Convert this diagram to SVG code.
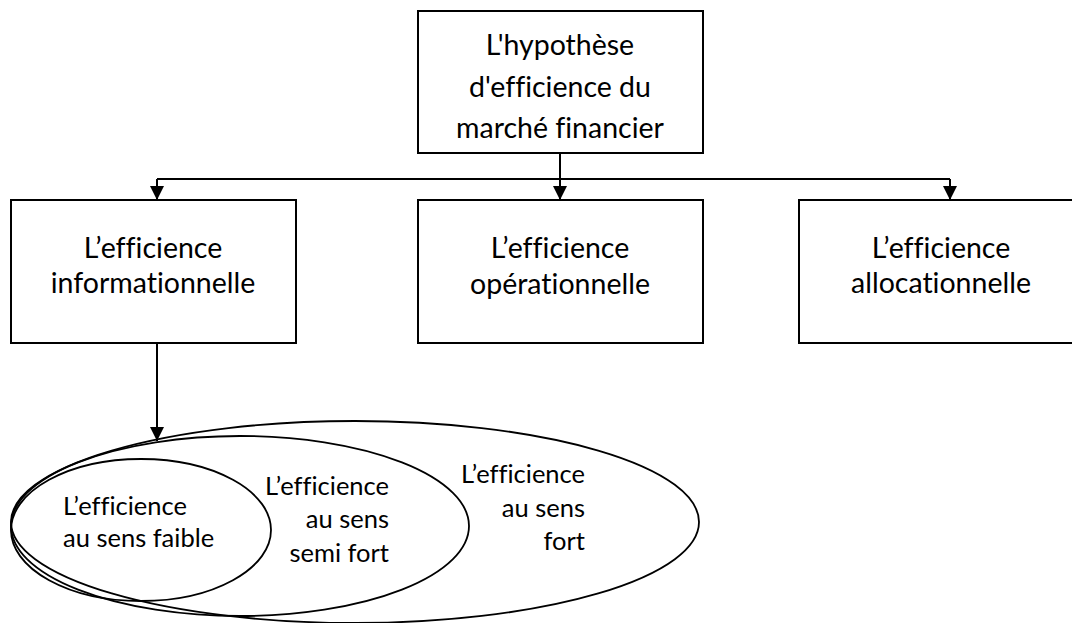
<svg xmlns="http://www.w3.org/2000/svg" width="1072" height="623" viewBox="0 0 1072 623">
  <style>
    .box { fill: #ffffff; stroke: #000000; stroke-width: 2; }
    .oval { fill: none; stroke: #000000; stroke-width: 1.8; }
    .wire { fill: none; stroke: #000000; stroke-width: 2; }
    .t { font-family: Lato, "Liberation Sans", sans-serif; fill: #000000;
         font-variant-ligatures: none; font-feature-settings: "liga" 0, "clig" 0; }
    .tb { font-size: 28.5px; text-anchor: middle; }
    .te { font-size: 25.5px; }
  </style>
  <defs>
    <marker id="arrow" viewBox="0 0 14 14" refX="14" refY="7" markerWidth="14" markerHeight="14" markerUnits="userSpaceOnUse" orient="auto">
      <path d="M0,0 L14,7 L0,14 Z" fill="#000000"/>
    </marker>
  </defs>

  <rect width="1072" height="623" fill="#ffffff"/>

  <!-- connectors -->
  <g id="connectors">
    <path class="wire" d="M560,153 L560,179"/>
    <path class="wire" d="M157,179 L950,179"/>
    <path class="wire" d="M157,179 L157,200" marker-end="url(#arrow)"/>
    <path class="wire" d="M560,179 L560,200" marker-end="url(#arrow)"/>
    <path class="wire" d="M950,179 L950,200" marker-end="url(#arrow)"/>
    <path class="wire" d="M157,343 L157,441" marker-end="url(#arrow)"/>
  </g>

  <!-- root -->
  <g id="node-hypothese">
    <rect class="box" x="418" y="11" width="285" height="142"/>
    <text class="t tb" x="560" y="55">L'hypothèse</text>
    <text class="t tb" x="560" y="97">d'efficience du</text>
    <text class="t tb" x="560" y="138">marché financier</text>
  </g>

  <!-- three forms of efficiency -->
  <g id="node-informationnelle">
    <rect class="box" x="11" y="200" width="285" height="143"/>
    <text class="t tb" x="153" y="258">L’efficience</text>
    <text class="t tb" x="153" y="293">informationnelle</text>
  </g>
  <g id="node-operationnelle">
    <rect class="box" x="418" y="200" width="285" height="143"/>
    <text class="t tb" x="560" y="258">L’efficience</text>
    <text class="t tb" x="560" y="294">opérationnelle</text>
  </g>
  <g id="node-allocationnelle">
    <rect class="box" x="799" y="200" width="285" height="143"/>
    <text class="t tb" x="941" y="258">L’efficience</text>
    <text class="t tb" x="941" y="293">allocationnelle</text>
  </g>

  <!-- nested forms of informational efficiency -->
  <g id="node-fort">
    <ellipse class="oval" cx="355" cy="522" rx="344" ry="101"/>
    <text class="t te" text-anchor="end" x="585" y="483">L’efficience</text>
    <text class="t te" text-anchor="end" x="585" y="517">au sens</text>
    <text class="t te" text-anchor="end" x="585" y="550">fort</text>
  </g>
  <g id="node-semi-fort">
    <ellipse class="oval" cx="240" cy="526" rx="229" ry="90"/>
    <text class="t te" text-anchor="end" x="389" y="495">L’efficience</text>
    <text class="t te" text-anchor="end" x="389" y="528">au sens</text>
    <text class="t te" text-anchor="end" x="389" y="562">semi fort</text>
  </g>
  <g id="node-faible">
    <ellipse class="oval" cx="141" cy="530" rx="130" ry="71"/>
    <text class="t te" x="63" y="515">L’efficience</text>
    <text class="t te" x="63" y="547">au sens faible</text>
  </g>
</svg>
